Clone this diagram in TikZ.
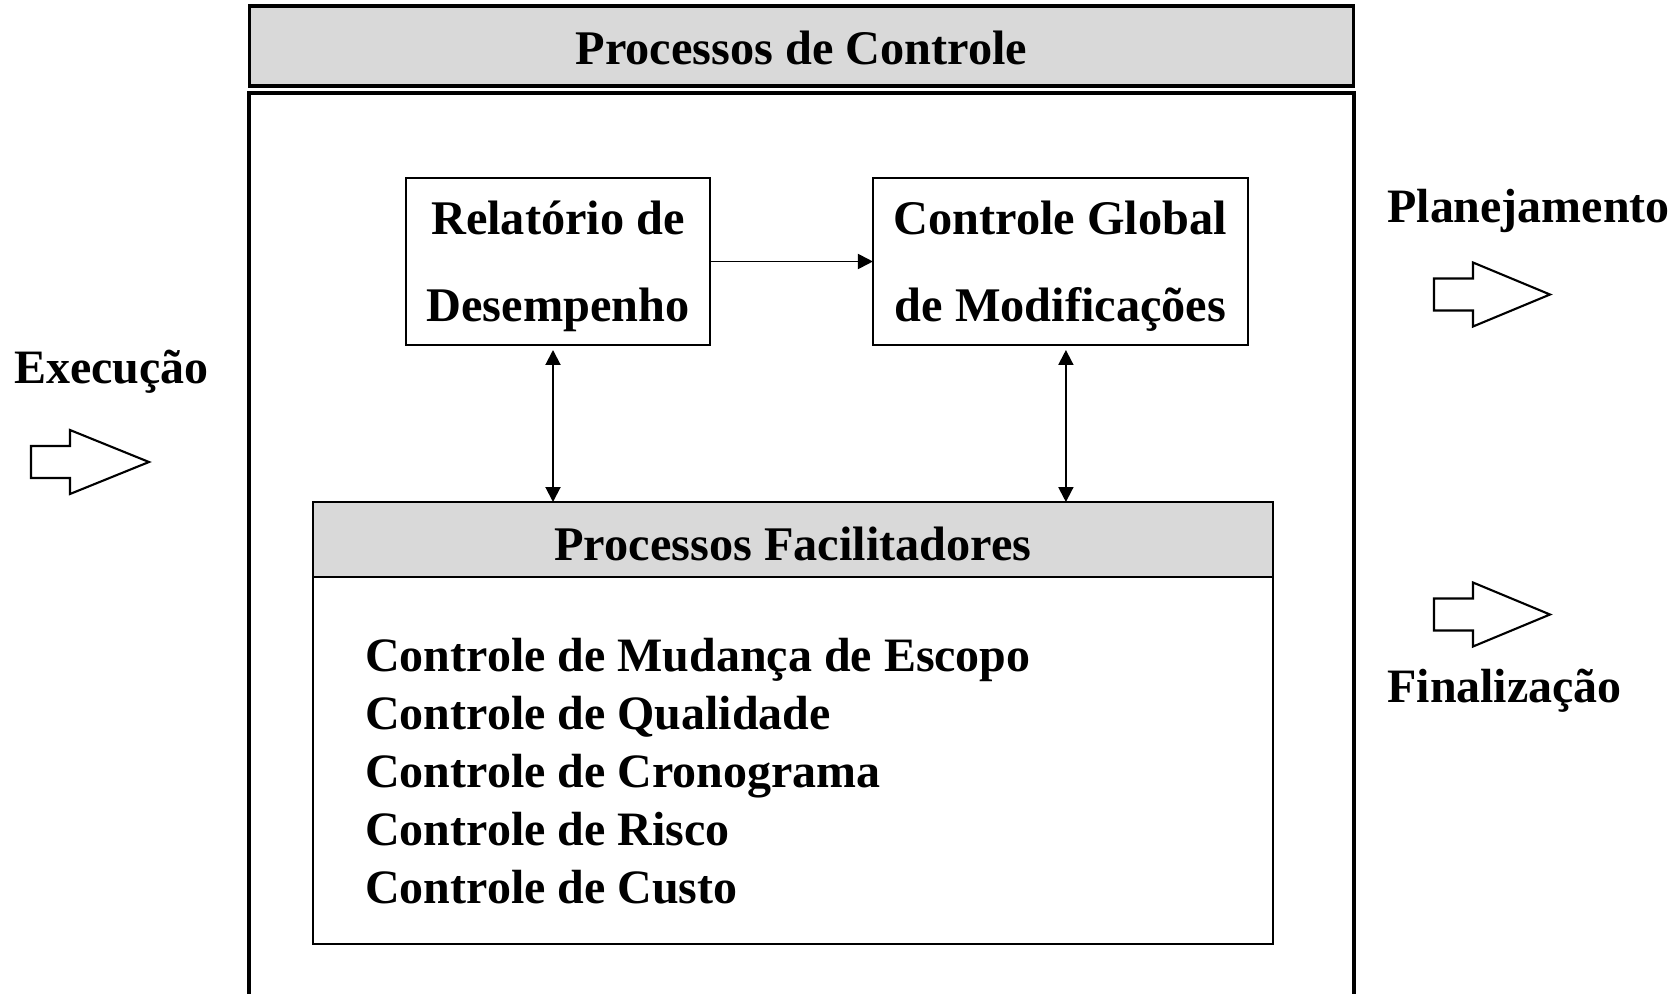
\documentclass[tikz,border=0pt]{standalone}
\usepackage{fontspec}
\setmainfont{Liberation Serif}
\usetikzlibrary{arrows.meta,positioning}
\definecolor{headgray}{gray}{0.85}

\tikzset{
  lbl/.style={font=\fontsize{27.3}{33}\selectfont\bfseries, inner sep=0pt},
  box/.style={draw, line width=1.5pt, outer sep=0pt, align=center,
    font=\fontsize{27.5}{49.3}\selectfont\bfseries, text depth=-5pt},
  headbox/.style={box, fill=headgray, text depth=0pt, text height=24pt},
  link/.style={line width=1.1pt, -{Triangle[length=0.3cm,width=0.3cm]}},
  dlink/.style={line width=1.1pt, {Triangle[length=0.3cm,width=0.3cm]}-{Triangle[length=0.3cm,width=0.3cm]}},
  blockarr/.style={draw, line width=1.2pt, fill=white, line join=miter},
}

\begin{document}
\begin{tikzpicture}[x=0.02cm,y=-0.02cm]
\useasboundingbox (0,0) rectangle (1678,994);

% outer frame and its title
\node[headbox, minimum width=22.1cm, minimum height=1.6cm, line width=1.8pt, text height=21.5pt] (ctrl) at (801.5,46) {Processos de Controle};
\draw[line width=1.8pt] (249,1010) -- (249,93) -- (1354,93) -- (1354,1010);

% main processes
\node[box, minimum width=6.08cm, minimum height=3.34cm] (rel) at (558,261.5) {Relatório de\\Desempenho};
\node[box, minimum width=7.5cm, minimum height=3.34cm, right=3.26cm of rel] (glob) {Controle Global\\de Modificações};

% facilitating processes
\node[headbox, minimum width=19.2cm, minimum height=1.5cm] (fac) at (793,539.5) {Processos Facilitadores};
\node[box, minimum width=19.2cm, minimum height=7.34cm, below=0pt of fac] (facbody) {};
\node[lbl, anchor=base west] (escopo) at (365,671) {Controle de Mudança de Escopo};
\node[lbl, anchor=base west] (qual) at (365,729) {Controle de Qualidade};
\node[lbl, anchor=base west] (crono) at (365,787) {Controle de Cronograma};
\node[lbl, anchor=base west] (risco) at (365,845.5) {Controle de Risco};
\node[lbl, anchor=base west] (custo) at (365,903.5) {Controle de Custo};

% connectors
\draw[link] (rel) -- (glob);
\draw[dlink] ([xshift=-0.1cm,yshift=-0.1cm]rel.south) -- ([xshift=-0.1cm]rel.south |- fac.north);
\draw[dlink] ([xshift=0.11cm,yshift=-0.1cm]glob.south) -- ([xshift=0.11cm]glob.south |- fac.north);

% neighbouring process groups
\node[lbl, anchor=base west] (exec) at (14,383) {Execução};
\node[lbl, anchor=base west] (plan) at (1387,222) {Planejamento};
\node[lbl, anchor=base west] (fin) at (1387,702) {Finalização};
\draw[blockarr] (31,446) -- (70,446) -- (70,430) -- (149,462) -- (70,494) -- (70,478) -- (31,478) -- cycle;
\draw[blockarr] (1434,278.5) -- (1473,278.5) -- (1473,262.5) -- (1550,294.5) -- (1473,326.5) -- (1473,310.5) -- (1434,310.5) -- cycle;
\draw[blockarr] (1434,598.5) -- (1473,598.5) -- (1473,582.5) -- (1550,614.5) -- (1473,646.5) -- (1473,630.5) -- (1434,630.5) -- cycle;
\end{tikzpicture}
\end{document}
